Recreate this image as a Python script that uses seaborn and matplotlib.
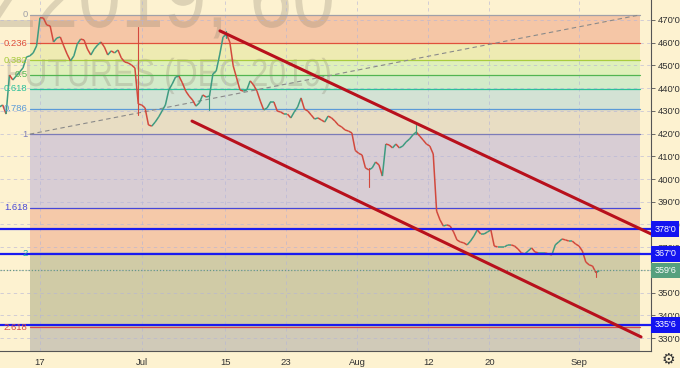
import numpy as np
import pandas as pd
import matplotlib
matplotlib.use("Agg")
import matplotlib.pyplot as plt
import seaborn as sns
from matplotlib.collections import LineCollection
from matplotlib.textpath import TextPath
from matplotlib.patches import PathPatch
from matplotlib.font_manager import FontProperties
from matplotlib.transforms import Affine2D

# Corn Dec 2019, 60 min chart - closes read every 1/3 trading day (cents)
closes = [
    431.7, 432.6, 428.6, 445.8, 443.6, 445.4, 447.1, 448.9, 453.7, 454.2,
    455.5, 458.6, 471.0, 470.9, 467.8, 467.4, 460.3, 462.1, 462.5, 458.6,
    455.0, 452.0, 454.2, 459.4, 461.6, 461.2, 457.2, 454.6, 457.2, 459.0,
    460.3, 458.1, 454.6, 456.4, 455.5, 456.8, 453.3, 451.5, 451.1, 450.2,
    448.9, 433.0, 432.6, 431.3, 423.8, 423.3, 425.1, 427.3, 429.9, 432.6,
    439.2, 441.8, 444.9, 445.3, 442.3, 438.7, 436.5, 434.8, 432.1, 433.5,
    437.0, 436.1, 436.5, 446.2, 447.6, 454.6, 462.5, 463.8, 460.3, 449.8,
    444.5, 439.2, 438.7, 439.2, 443.2, 441.4, 438.7, 434.3, 430.4, 431.3,
    433.9, 433.9, 429.9, 429.5, 428.6, 428.6, 426.9, 429.5, 431.7, 435.7,
    430.8, 429.9, 428.2, 426.4, 426.9, 426.0, 425.1, 427.7, 426.9, 425.5,
    423.8, 422.9, 421.6, 421.1, 420.3, 412.6, 411.3, 410.6, 404.9, 404.0,
    404.9, 407.5, 406.2, 401.3, 415.4, 415.0, 413.7, 415.4, 413.7, 414.5,
    416.3, 417.6, 419.4, 420.7, 418.9, 417.2, 415.4, 414.5, 411.0, 385.9,
    382.0, 379.3, 379.8, 379.3, 376.7, 373.2, 372.3, 371.9, 371.0, 372.7,
    374.9, 377.6, 375.8, 375.8, 376.7, 377.6, 370.5, 370.1, 370.1, 370.1,
    371.0, 371.0, 370.5, 369.2, 367.5, 367.0, 368.3, 369.7, 367.9, 367.5,
    367.5, 367.5, 367.0, 366.6, 371.0, 372.3, 373.6, 373.2, 372.7, 372.7,
    371.4, 370.5, 368.3, 363.5, 362.2, 361.7, 358.7, 359.75,
]
first_day = -4.0  # trading days relative to Jun 17
wick_bar = [41, 62, 67, 109, 123, 176]
wick_low = [428.2, 430.4, 462.0, 396.5, 420.0, 356.9]
wick_high = [466.9, 437.0, 465.2, 405.0, 423.8, 359.5]

# fibonacci retracement
fib_levels = [0, 0.236, 0.382, 0.5, 0.618, 0.786, 1, 1.618, 2, 2.618, 3.618]
fib_labels = ["0", "0.236", "0.382", "0.5", "0.618", "0.786", "1", "1.618", "2", "2.618"]
fib_high, fib_low = 472.25, 419.75
fib_start, fib_end = -1.0, 59.0
fib_line_colors = ["#a0a0a8", "#e0503c", "#a8cc3c", "#52b552", "#2cc09a", "#5a9ad8",
                   "#7c7cb8", "#4848d8", "#22b0a8", "#d84a4a"]
fib_zone_colors = ["#f5c6a6", "#eeebb2", "#dff0ba", "#d3ebc9", "#d3e2d4", "#e8ddc3",
                   "#d8cdd4", "#f5c9a9", "#d0cba6", "#d0cab8"]

# trend channel
upper_day = [17.7, 60.1]
upper_price = [465.2, 375.8]
lower_day = [14.95, 59.1]
lower_price = [425.5, 330.5]

# horizontal levels
level_prices = [378.0, 367.0, 335.75]
level_labels = ["378'0", "367'0", "335'6"]
last_price, last_label = 359.75, "359'6"

tick_days = [0, 10, 18.2, 24.2, 31.2, 38.2, 44.2, 53]
tick_labels = ["17", "Jul", "15", "23", "Aug", "12", "20", "Sep"]
price_ticks = list(range(330, 480, 10))

bg = "#fdf2d0"
sns.set_style("white", {"axes.facecolor": bg, "figure.facecolor": bg})
plt.rcParams["font.family"] = ["Liberation Sans", "DejaVu Sans"]

fig = plt.figure(figsize=(6.8, 3.68), dpi=100)
ax = fig.add_axes([0, 17 / 368, 651 / 680, 351 / 368])

# fib zones and lines
fib_prices = [fib_high - lv * (fib_high - fib_low) for lv in fib_levels]
for i in range(len(fib_zone_colors)):
    ax.fill_between([fib_start, fib_end], fib_prices[i + 1], fib_prices[i],
                    color=fib_zone_colors[i], lw=0, zorder=0.2)
for i, lab in enumerate(fib_labels):
    ax.plot([fib_start, fib_end], [fib_prices[i]] * 2, color=fib_line_colors[i], lw=0.9, zorder=1.5)
    ax.annotate(lab, xy=(fib_start, fib_prices[i]), xytext=(-1.5, 0), textcoords="offset points",
                ha="right", va="center", fontsize=6.8, color=fib_line_colors[i], zorder=4)
sns.lineplot(x=[fib_start, fib_end], y=[fib_low, fib_high], color="#8a8a8a", lw=0.8,
             linestyle=(0, (4, 3)), ax=ax, zorder=1.6)

# grid
for p in price_ticks:
    ax.axhline(p, color="#b4b4d8", lw=0.6, ls=(0, (4, 4)), alpha=0.7, zorder=0.5)
for d in tick_days:
    ax.axvline(d, color="#b4b4d8", lw=0.6, ls=(0, (4, 4)), alpha=0.7, zorder=0.5)


# watermark (condensed text, pixel placement)
def watermark(s, right_px, base_px, sx, sy):
    tp = TextPath((0, 0), s, size=1, prop=FontProperties(family="Liberation Sans"))
    x1 = tp.get_extents().x1
    tr = Affine2D().scale(sx, sy).translate(right_px - x1 * sx, 368 - base_px)
    ax.add_patch(PathPatch(tp, transform=tr, fc="#8a8270", ec="none", alpha=0.28, zorder=0.4))


watermark("CZ2019, 60", 332, 27, 77, 90)
watermark("CORN FUTURES (DEC 2019)", 330, 86, 31.8, 39)

# price path
bar_day = first_day + np.arange(len(closes)) / 3
c = np.array(closes)
segs = [[(bar_day[i - 1], c[i - 1]), (bar_day[i], c[i])] for i in range(1, len(c))]
cols = ["#3e9b80" if c[i] >= c[i - 1] else "#d2493d" for i in range(1, len(c))]
ax.add_collection(LineCollection(segs, colors=cols, linewidths=1.1, zorder=3))
for b, lo, hi in zip(wick_bar, wick_low, wick_high):
    col = "#3e9b80" if c[b] >= c[b - 1] else "#d2493d"
    ax.plot([bar_day[b]] * 2, [lo, hi], color=col, lw=0.8, zorder=3)

# channel lines
sns.lineplot(x=upper_day, y=upper_price, color="#b8101c", lw=2.2, ax=ax, zorder=3.5)
sns.lineplot(x=lower_day, y=lower_price, color="#b8101c", lw=2.2, ax=ax, zorder=3.5)

# horizontal levels
box_kw = dict(xycoords=("axes fraction", "data"), xytext=(2.5, 0), textcoords="offset points",
              ha="left", va="center", fontsize=6.5, color="white", annotation_clip=False, zorder=5)
for p, lab in zip(level_prices, level_labels):
    ax.axhline(p, color="#1a1af0", lw=1.6, zorder=3.2)
    ax.annotate(lab, xy=(1, p), bbox=dict(boxstyle="square,pad=0.35", fc="#1414f0", ec="none"), **box_kw)
ax.axhline(last_price, color="#6a9a80", lw=0.9, ls=(0, (1, 1.5)), zorder=3.1)
ax.annotate(last_label, xy=(1, last_price), bbox=dict(boxstyle="square,pad=0.35", fc="#56a07e", ec="none"),
            **box_kw)

# axes
ax.set_xlim(-3.93, 60.08)
ax.set_ylim(324.3, 478.8)
ax.yaxis.tick_right()
ax.set_yticks(price_ticks)
ax.set_yticklabels([f"{p}'0" for p in price_ticks])
ax.set_xticks(tick_days)
ax.set_xticklabels(tick_labels)
ax.tick_params(axis="y", length=3, width=0.6, pad=2, labelsize=6.8, colors="#555555",
               labelcolor="#333333")
ax.tick_params(axis="x", length=3, width=0.6, pad=2, labelsize=6.8, colors="#555555",
               labelcolor="#333333")
ax.set_xlabel("")
ax.set_ylabel("")
for s in ["left", "top"]:
    ax.spines[s].set_visible(False)
for s in ["right", "bottom"]:
    ax.spines[s].set_color("#555555")
    ax.spines[s].set_linewidth(0.8)

fig.text(668 / 680, 1 - 359 / 368, "\u2699", ha="center", va="center", fontsize=11,
         color="#333333", family="DejaVu Sans")

fig.savefig("out.png", dpi=100, facecolor=bg)
plt.close()
